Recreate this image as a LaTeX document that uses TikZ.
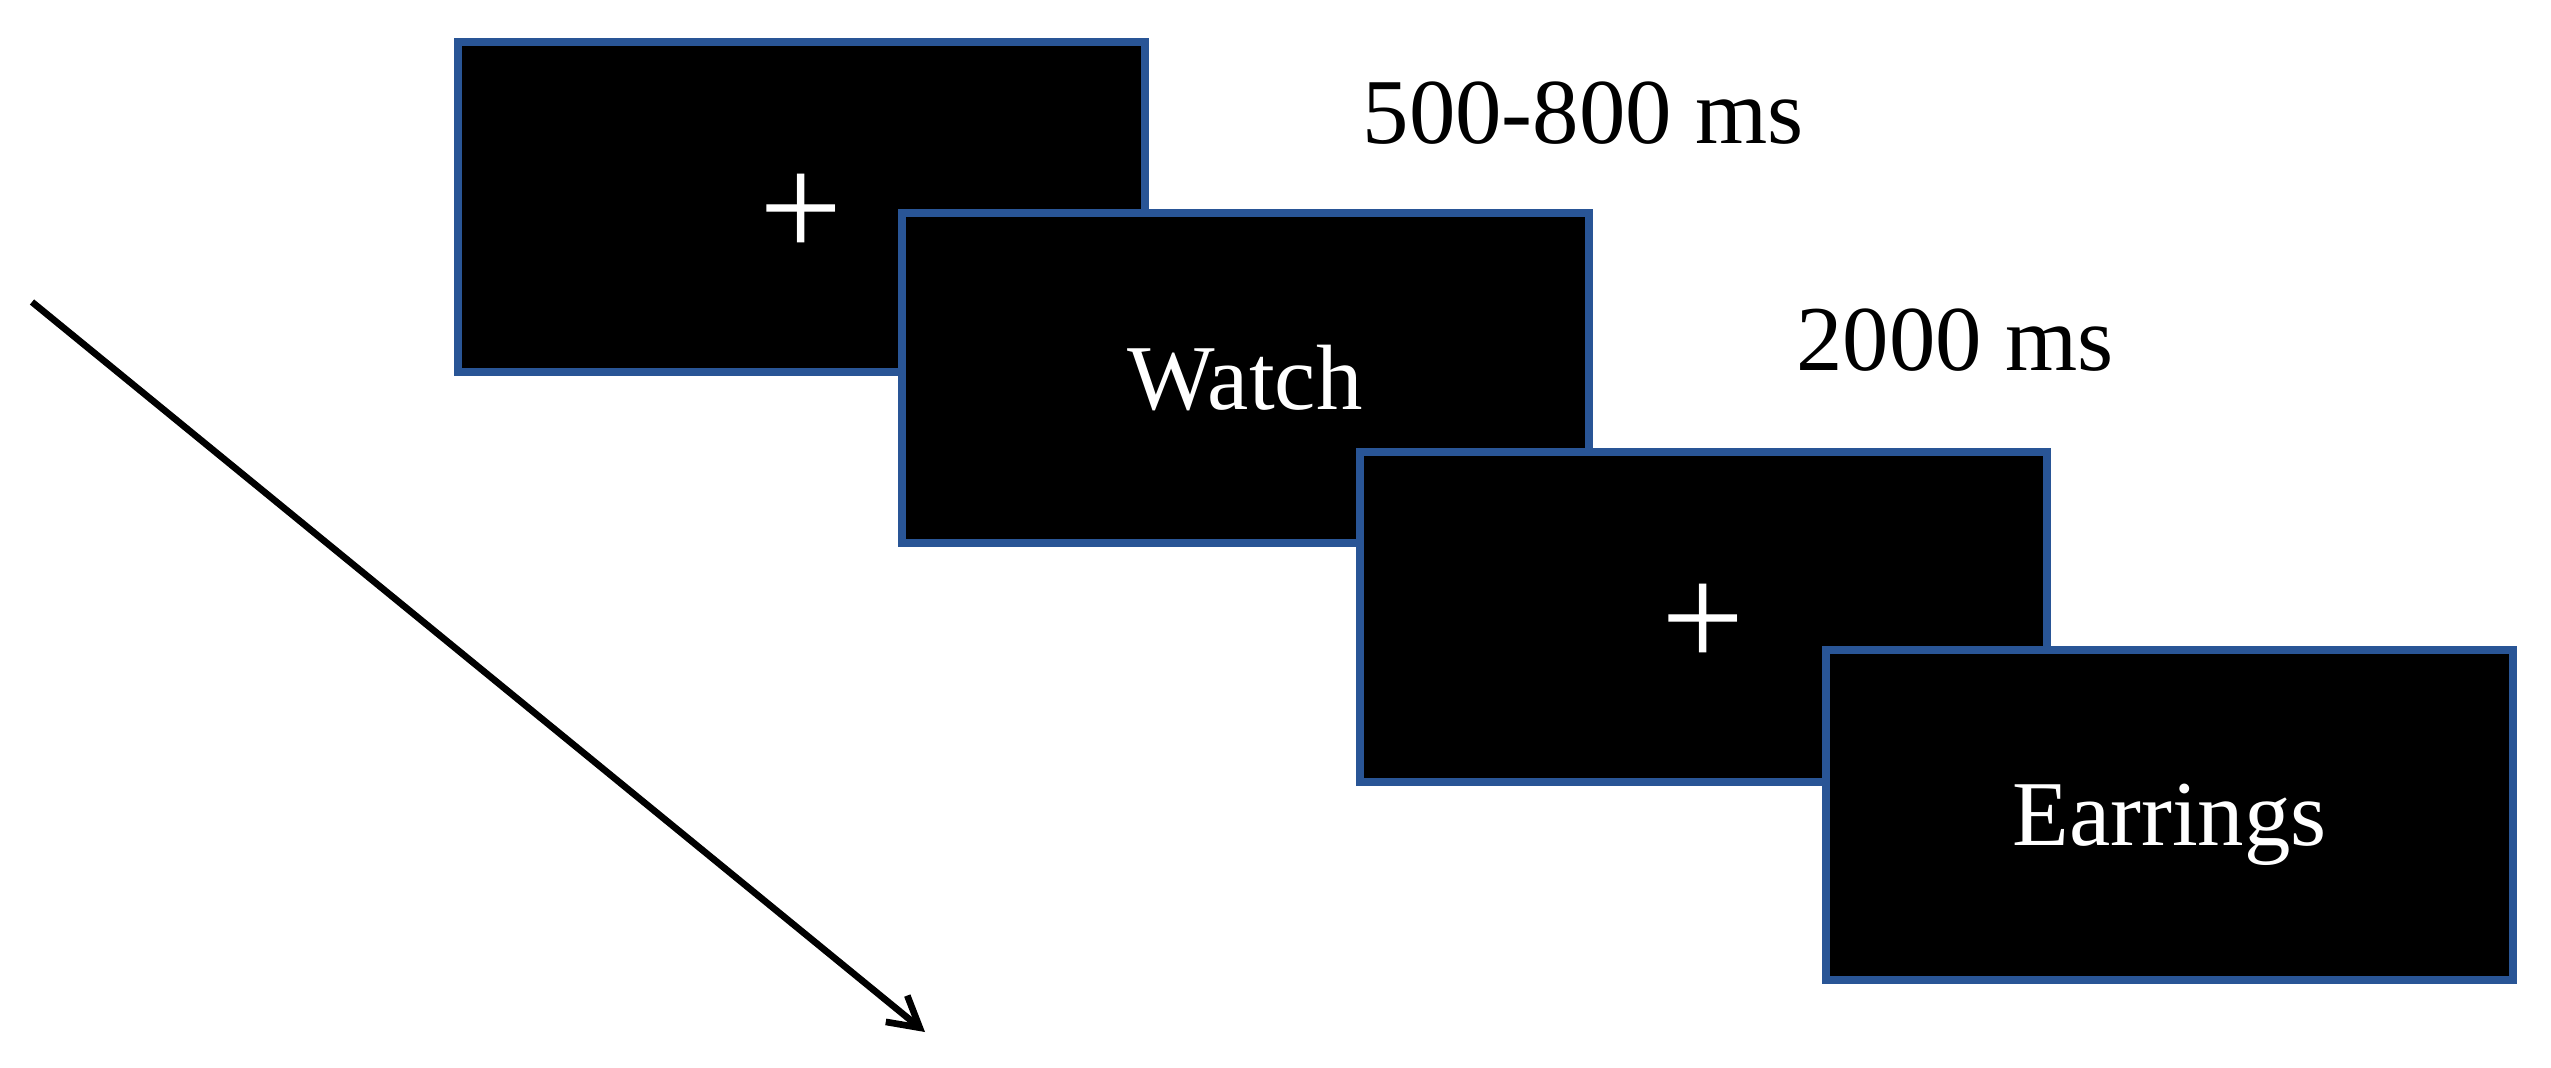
\documentclass[tikz,border=0pt]{standalone}
\usepackage{fontspec}
\setmainfont{Liberation Serif}
\usepackage{tikz}
\usetikzlibrary{arrows.meta}
\definecolor{scrblue}{RGB}{41,85,150}

\begin{document}
\begin{tikzpicture}[
  scr/.style={draw=scrblue, fill=black, line width=0.08cm,
              minimum width=6.87cm, minimum height=3.3cm,
              inner sep=0pt, text=white},
  word/.style={scr, font=\fontsize{26.4}{30}\selectfont, text depth=0pt},
  fix/.style={scr, font=\fontsize{42}{46}\selectfont},
  lab/.style={font=\fontsize{26.4}{30}\selectfont, anchor=base, inner sep=0pt},
  arr/.style={-{Straight Barb[length=3mm,width=3.4mm]}, line width=1.9pt},
]
\useasboundingbox (0,0) rectangle (25.51,-10.68);

% ---- Screens ---------------------------------------------------------------
\node[fix]  (fix1) at (8.01,-2.065)  {\raisebox{-0.09cm}[\height][0pt]{+}};
\node[word] (cue)  at (12.45,-3.775) {Watch};
\node[fix]  (fix2) at (17.035,-6.165) {\raisebox{-0.09cm}[\height][0pt]{+}};
\node[word] (tgt)  at (21.695,-8.145) {Earrings};

% ---- Durations -------------------------------------------------------------
\node[lab] (dur1) at (15.83,-1.43) {500-800 ms};
\node[lab] (dur2) at (19.55,-3.70) {2000 ms};

% ---- Time arrow ------------------------------------------------------------
\coordinate (tstart) at (0.32,-3.02);
\coordinate (tend)   at (9.25,-10.32);
\draw[arr] (tstart) -- (tend);

\end{tikzpicture}
\end{document}
